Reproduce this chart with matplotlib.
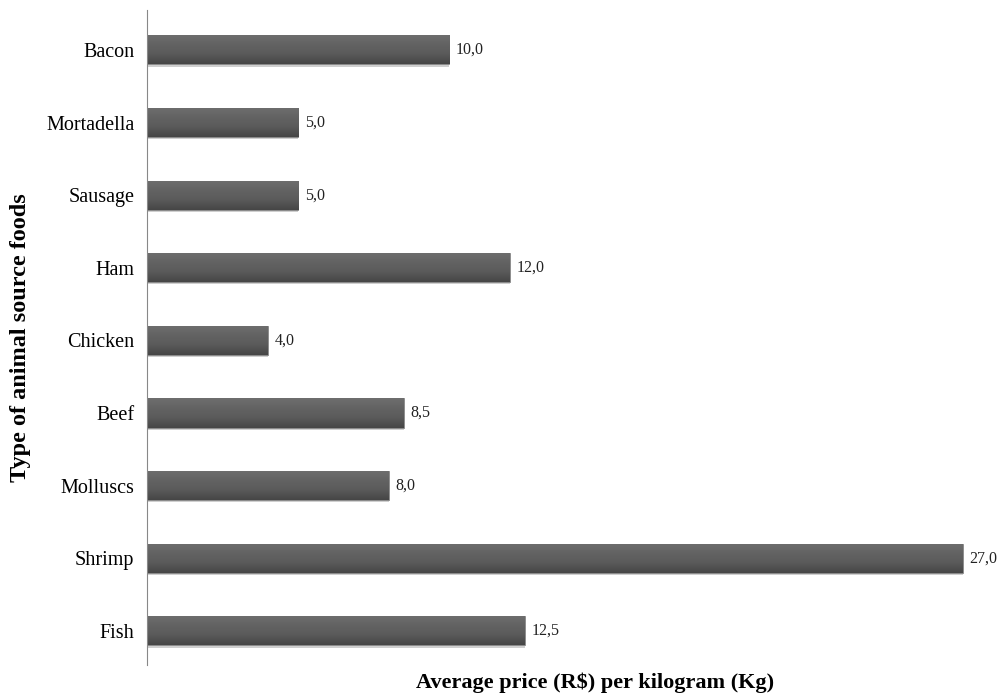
import numpy as np
import matplotlib.pyplot as plt
from matplotlib.colors import LinearSegmentedColormap

foods = ['Fish', 'Shrimp', 'Molluscs', 'Beef', 'Chicken', 'Ham', 'Sausage', 'Mortadella', 'Bacon']
prices = [12.5, 27.0, 8.0, 8.5, 4.0, 12.0, 5.0, 5.0, 10.0]

plt.rcParams['font.family'] = ['Liberation Serif', 'DejaVu Serif']

fig = plt.figure(figsize=(10.03, 6.93), dpi=100)
ax = fig.add_axes([147/1003, 28/693, 843/1003, 655/693])

y = np.arange(len(foods))
bars = ax.barh(y, prices, height=0.4, color='#595959', edgecolor='#8a8a8a', linewidth=0.6)

# vertical shading on each bar: lighter top, darker bottom
shade = LinearSegmentedColormap.from_list('shade', ['#464646', '#5a5a5a', '#636363', '#6e6e6e'])
grad = np.linspace(0, 1, 64).reshape(-1, 1)
for b in bars:
    x0, y0 = b.get_x(), b.get_y()
    im = ax.imshow(grad, cmap=shade, aspect='auto', origin='lower',
                   extent=[x0, x0 + b.get_width(), y0, y0 + b.get_height()], zorder=2)
    im.set_clip_path(b)
    b.set_zorder(1)
    # soft shadow under the bar
    ax.fill_between([x0, x0 + b.get_width()], y0 - 0.03, y0, color='#cfcfcf', zorder=0, lw=0)

for yi, v in zip(y, prices):
    ax.text(v + 0.22, yi, f'{v:.1f}'.replace('.', ','), va='center', ha='left',
            fontsize=11.5, color='#222222')

ax.set_yticks(y)
ax.set_yticklabels(foods, fontsize=14.5)
ax.tick_params(axis='y', length=0, pad=9)
ax.set_xticks([])
ax.set_xlim(0, 27.9)
ax.set_ylim(-0.47, 8.55)
for s in ['top', 'right', 'bottom']:
    ax.spines[s].set_visible(False)
ax.spines['left'].set_color('#888888')
ax.spines['left'].set_zorder(3)

ax.set_xlabel('Average price (R$) per kilogram (Kg)', fontsize=16, fontweight='bold')
ax.xaxis.set_label_coords((595 - 147) / 843, -0.012)
ax.xaxis.label.set_va('top')
ax.set_ylabel('Type of animal source foods', fontsize=17.5, fontweight='bold')
ax.yaxis.set_label_coords(-(147 - 20) / 843, 0.5)
ax.yaxis.label.set_va('center')

fig.savefig('out.png', dpi=100)
